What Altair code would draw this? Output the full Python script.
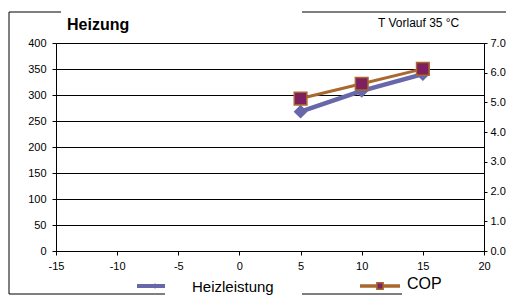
import altair as alt
import pandas as pd

# ---- data ----
temps = [5, 10, 15]                 # T (°C)
heizleistung = [268, 308, 340]      # left axis
cop = [5.13, 5.63, 6.13]            # right axis
series = ["Heizleistung", "COP"]
x_ticks = [-15, -10, -5, 0, 5, 10, 15, 20]
left_ticks = [0, 50, 100, 150, 200, 250, 300, 350, 400]
right_ticks = [0, 1, 2, 3, 4, 5, 6, 7]
title_text = "Heizung"
subtitle_text = "T Vorlauf 35 °C"

df = pd.DataFrame({"T": temps, "Heizleistung": heizleistung, "COP": cop})
one = pd.DataFrame({"k": [0]})

FONT = "Liberation Sans"
BLUE = "#6767A9"
BROWN = "#A9692E"
PURPLE = "#7E1F5F"

xenc = alt.X(
    "T:Q",
    scale=alt.Scale(domain=[-15, 20], nice=False, zero=False),
    axis=alt.Axis(values=x_ticks, title=None, grid=False, domainColor="black",
                  tickColor="black", tickSize=4, labelPadding=5, labelFont=FONT,
                  labelFontSize=11, labelColor="black", labelFlush=False,
                  labelExpr="datum.value + ''"),
)

heiz_layer = alt.Chart(df).mark_line(
    color=BLUE, strokeWidth=4.5,
    point=alt.OverlayMarkDef(shape="diamond", size=120, filled=True, fill=BLUE, stroke=BLUE),
).encode(
    x=xenc,
    y=alt.Y("Heizleistung:Q", scale=alt.Scale(domain=[0, 400], nice=False),
            axis=alt.Axis(values=left_ticks, title=None, grid=True, gridColor="black",
                          gridWidth=1, gridOpacity=1, domainColor="black", tickColor="black",
                          tickSize=4, labelPadding=6, labelFont=FONT, labelFontSize=11,
                          labelColor="black", orient="left", format="d")),
)

cop_layer = alt.Chart(df).mark_line(
    color=BROWN, strokeWidth=3,
    point=alt.OverlayMarkDef(shape="square", size=160, filled=True, fill=PURPLE,
                             stroke=BROWN, strokeWidth=1.5),
).encode(
    x=xenc,
    y=alt.Y("COP:Q", scale=alt.Scale(domain=[0, 7], nice=False),
            axis=alt.Axis(values=right_ticks, title=None, grid=False, domainColor="black",
                          tickColor="black", tickSize=3, labelPadding=3, labelFont=FONT,
                          labelFontSize=11, labelColor="black", orient="right", format=".1f")),
)

# ---- title texts ----
title_layer = alt.Chart(one).mark_text(
    font=FONT, fontSize=16, fontWeight="bold", align="left", baseline="alphabetic", color="black"
).encode(x=alt.value(11), y=alt.value(-13), text=alt.value(title_text))

subtitle_layer = alt.Chart(one).mark_text(
    font=FONT, fontSize=12, align="left", baseline="alphabetic", color="black"
).encode(x=alt.value(322), y=alt.value(-16), text=alt.value(subtitle_text))

# ---- legend ----
LEG_Y = 243
leg_blue_line = alt.Chart(one).mark_rule(color=BLUE, strokeWidth=4).encode(
    x=alt.value(81), x2=alt.value(109), y=alt.value(LEG_Y))
leg_blue_pt = alt.Chart(one).mark_point(shape="diamond", size=30, filled=True, color=BLUE, opacity=1).encode(
    x=alt.value(99), y=alt.value(LEG_Y))
leg_blue_txt = alt.Chart(one).mark_text(font=FONT, fontSize=15, align="left",
                                        baseline="middle", color="black").encode(
    x=alt.value(136), y=alt.value(LEG_Y + 1), text=alt.value(series[0]))

leg_cop_line = alt.Chart(one).mark_rule(color=BROWN, strokeWidth=3.5).encode(
    x=alt.value(304), x2=alt.value(344), y=alt.value(LEG_Y))
leg_cop_pt = alt.Chart(one).mark_point(shape="square", size=40, filled=True, fill=PURPLE,
                                       stroke=BROWN, strokeWidth=1.5, opacity=1).encode(
    x=alt.value(324), y=alt.value(LEG_Y))
leg_cop_txt = alt.Chart(one).mark_text(font=FONT, fontSize=16, align="left",
                                       baseline="middle", color="black").encode(
    x=alt.value(351), y=alt.value(LEG_Y - 2), text=alt.value(series[1]))

# ---- frame fragments around the chart ----
def hline(x1, x2, y):
    return alt.Chart(one).mark_rule(color="black", strokeWidth=1).encode(
        x=alt.value(x1), x2=alt.value(x2), y=alt.value(y))

FB = 251
frame = [
    hline(-47, 5, -31),
    hline(246, 450, -31),
    hline(-47, 109, FB),
    hline(246, 346, FB),
    alt.Chart(one).mark_rule(color="black", strokeWidth=1).encode(
        x=alt.value(-47), y=alt.value(-31), y2=alt.value(FB)),
]

chart = alt.layer(
    heiz_layer, cop_layer, title_layer, subtitle_layer,
    leg_blue_line, leg_blue_pt, leg_blue_txt, leg_cop_line, leg_cop_pt, leg_cop_txt,
    *frame,
).resolve_scale(y="independent").properties(
    width=428, height=208,
    autosize=alt.AutoSizeParams(type="none"),
    padding={"left": 48, "top": 35, "right": 22, "bottom": 44},
).configure_view(stroke=None).configure(background="white")

chart.save("out.html", embed_options={"renderer": "svg", "actions": False})
